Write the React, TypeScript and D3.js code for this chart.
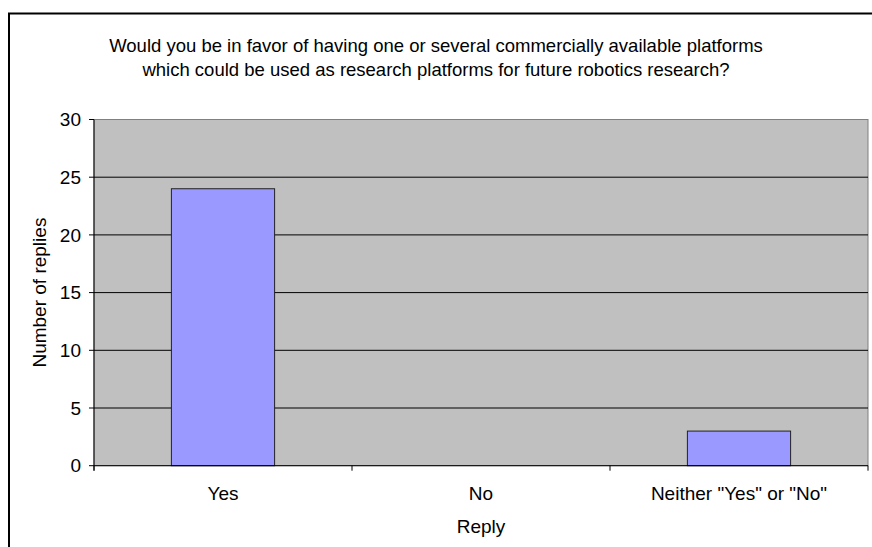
import React from "react";
import * as d3 from "d3";

const categories = ["Yes", "No", "Neither \"Yes\" or \"No\""];
const replies = [24, 0, 3];
const yTicks = [0, 5, 10, 15, 20, 25, 30];
const titleLines = [
  "Would you be in favor of having one or several commercially available platforms",
  "which could be used as research platforms for future robotics research?",
];

export default function App() {
  const W = 872, H = 547;
  const left = 94, right = 868, top = 119.5, bottom = 465.7;
  const font = "'Liberation Sans', Arial, sans-serif";
  const x = d3.scaleBand<string>().domain(categories).range([left, right]).padding(0);
  const y = d3.scaleLinear().domain([0, 30]).range([bottom, top]);
  const bw = x.bandwidth() * 0.4;
  const boundaries = [...categories.map((c) => x(c) as number), right];
  return (
    <svg width={W} height={H} style={{ position: "absolute", left: 0, top: 0, background: "#fff" }}>
      <rect x={9} y={13.5} width={W + 10} height={H + 10} fill="#fff" stroke="#000" strokeWidth={2} />
      {titleLines.map((t, i) => (
        <text key={i} x={436} y={51.5 + i * 24.5} textAnchor="middle" fontFamily={font} fontSize={18.5} fill="#000">
          {t}
        </text>
      ))}
      <rect x={left} y={top} width={right - left} height={bottom - top} fill="#C0C0C0" stroke="#808080" strokeWidth={1} />
      {yTicks.filter((v) => v !== 0 && v !== 30).map((v) => (
        <line key={v} x1={left} x2={right} y1={y(v)} y2={y(v)} stroke="#000" strokeWidth={1} />
      ))}
      {categories.map((c, i) => (
        <rect
          key={c}
          x={(x(c) as number) + (x.bandwidth() - bw) / 2}
          y={y(replies[i])}
          width={bw}
          height={bottom - y(replies[i])}
          fill="#9999FF"
          stroke="#222"
          strokeWidth={1}
          opacity={replies[i] > 0 ? 1 : 0}
        />
      ))}
      <line x1={left} x2={left} y1={top} y2={bottom + 5} stroke="#000" strokeWidth={1} />
      <line x1={left} x2={right} y1={bottom} y2={bottom} stroke="#000" strokeWidth={1} />
      {yTicks.map((v) => (
        <g key={v}>
          <line x1={left - 5} x2={left} y1={y(v)} y2={y(v)} stroke="#000" strokeWidth={1} />
          <text x={left - 13} y={y(v)} dy="0.35em" textAnchor="end" fontFamily={font} fontSize={19} fill="#000">
            {v}
          </text>
        </g>
      ))}
      {boundaries.map((b, i) => (
        <line key={i} x1={b} x2={b} y1={bottom} y2={bottom + 5} stroke="#000" strokeWidth={1} />
      ))}
      {categories.map((c) => (
        <text key={c} x={(x(c) as number) + x.bandwidth() / 2} y={500} textAnchor="middle" fontFamily={font} fontSize={19} fill="#000">
          {c}
        </text>
      ))}
      <text x={481} y={533} textAnchor="middle" fontFamily={font} fontSize={19} fill="#000">Reply</text>
      <text transform={`translate(46,${(top + bottom) / 2}) rotate(-90)`} textAnchor="middle" fontFamily={font} fontSize={19} fill="#000">
        Number of replies
      </text>
    </svg>
  );
}
